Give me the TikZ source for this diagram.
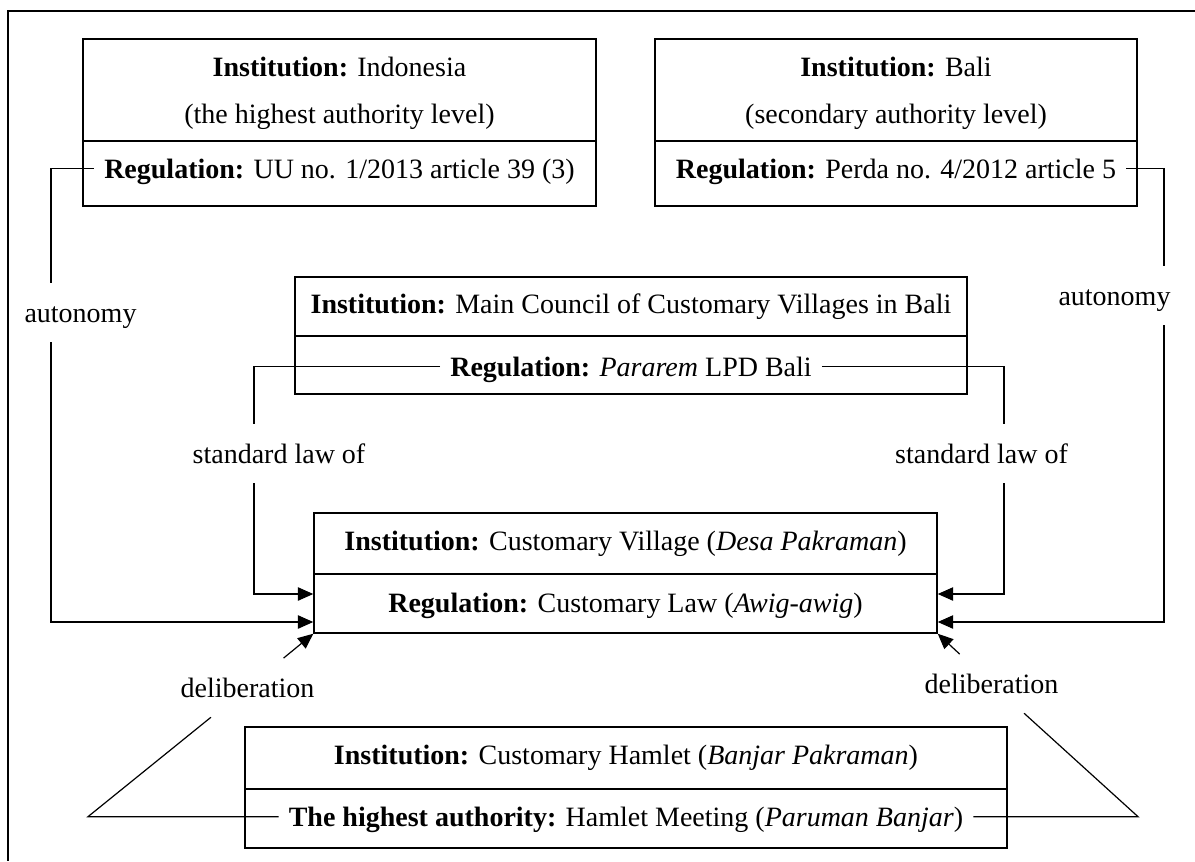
\documentclass[tikz,border=0pt]{standalone}
\usepackage{fontspec}
\setmainfont{Liberation Serif}
\usetikzlibrary{arrows.meta, fit}

\tikzset{
  box/.style={draw, line width=1.1pt, inner sep=0pt},
  txt/.style={anchor=base, inner xsep=7.5pt, inner ysep=0pt, text height=19pt, text depth=5pt, font=\fontsize{21}{25}\selectfont},
  lbl/.style={txt, inner ysep=10pt, inner xsep=4pt},
  link/.style={line width=0.9pt},
  arr/.style={link, -{Triangle[length=11.5pt, width=10pt]}},
  frame/.style={line width=1pt}
}

\begin{document}
\begin{tikzpicture}[x=0.75pt, y=-0.75pt]
\useasboundingbox (0,0) rectangle (1195,861);

%%%  nodes

% outer frame
\draw [frame] (1195,11) -- (8,11) -- (8,861);

% box nodes
\node [box, fit={(83,39) (596,141)}] (indoTop) {};
\node [box, fit={(83,141) (596,206)}] (indoBot) {};
\node [box, fit={(655,39) (1137,141)}] (baliTop) {};
\node [box, fit={(655,141) (1137,206)}] (baliBot) {};
\node [box, fit={(295,277) (967,336)}] (councilTop) {};
\node [box, fit={(295,336) (967,394)}] (councilBot) {};
\node [box, fit={(314,513) (937,574)}] (villageTop) {};
\node [box, fit={(314,574) (937,633)}] (villageBot) {};
\node [box, fit={(245,727) (1007,789)}] (hamletTop) {};
\node [box, fit={(245,789) (1007,848)}] (hamletBot) {};

% text nodes
\node [txt] (indoInst) at (339.5,76) {\textbf{Institution:} Indonesia};
\node [txt] (indoLvl) at (339.5,123) {(the highest authority level)};
\node [txt] (indoReg) at (339.5,178) {\textbf{Regulation:} UU no. 1/2013 article 39 (3)};
\node [txt] (baliInst) at (896,76) {\textbf{Institution:} Bali};
\node [txt] (baliLvl) at (896,123) {(secondary authority level)};
\node [txt] (baliReg) at (896,178) {\textbf{Regulation:} Perda no. 4/2012 article 5};
\node [txt] (councilInst) at (631,313) {\textbf{Institution:} Main Council of Customary Villages in Bali};
\node [txt] (councilReg) at (631,376) {\textbf{Regulation:} \textit{Pararem} LPD Bali};
\node [txt] (villageInst) at (625.5,550) {\textbf{Institution:} Customary Village (\textit{Desa Pakraman})};
\node [txt] (villageReg) at (625.5,612) {\textbf{Regulation:} Customary Law (\textit{Awig-awig})};
\node [txt] (hamletInst) at (626,764) {\textbf{Institution:} Customary Hamlet (\textit{Banjar Pakraman})};
\node [txt] (hamletAuth) at (626,826) {\textbf{The highest authority:} Hamlet Meeting (\textit{Paruman Banjar})};

% label nodes
\node [lbl] (autoL) at (80.5,322) {autonomy};
\node [lbl] (autoR) at (1114.5,305) {autonomy};
\node [lbl] (stdL) at (279,463) {standard law of};
\node [lbl] (stdR) at (981.5,463) {standard law of};
\node [lbl] (delibL) at (247.5,697) {deliberation};
\node [lbl] (delibR) at (991.5,693) {deliberation};

% bend points
\coordinate (kA) at (51,622);
\coordinate (kB) at (1164,622);
\coordinate (kC) at (254,594);
\coordinate (kD) at (1004,594);
\coordinate (dL) at (88,818);
\coordinate (dR) at (1138,818);

%%% edges

% autonomy
\draw (indoReg.west) [link] -| (autoL.north -| kA);
\draw (autoL.south -| kA) [arr] |- (kA -| villageBot.west);
\draw (baliReg.east) [link] -| (autoR.north -| kB);
\draw (autoR.south -| kB) [arr] |- (kB -| villageBot.east);

% standard law of
\draw (councilReg.west) [link] -| (stdL.north -| kC);
\draw (stdL.south -| kC) [arr] |- (kC -| villageBot.west);
\draw (councilReg.east) [link] -| (stdR.north -| kD);
\draw (stdR.south -| kD) [arr] |- (kD -| villageBot.east);

% deliberation
\draw (hamletAuth.west) [link] -- (hamletAuth.west -| dL) -- (delibL);
\draw (delibL) [arr] -- (villageBot.south west);
\draw (hamletAuth.east) [link] -- (hamletAuth.east -| dR) -- (delibR);
\draw (delibR) [arr] -- (villageBot.south east);
\end{tikzpicture}
\end{document}
